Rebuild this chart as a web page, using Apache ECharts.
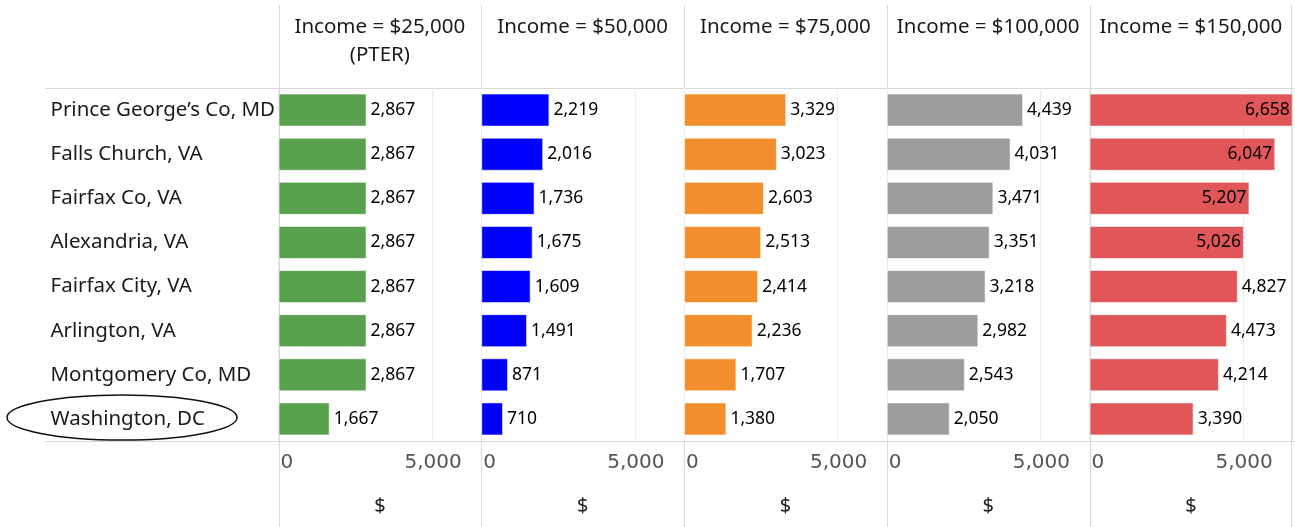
<!DOCTYPE html>
<html>
<head>
<meta charset="utf-8">
<script src="https://cdn.jsdelivr.net/npm/echarts@6/dist/echarts.min.js"></script>
<style>
  html, body { margin: 0; padding: 0; background: #fff; }
  #main { width: 1295px; height: 527px; }
</style>
</head>
<body>
<div id="main"></div>
<script>
// 数据
var cities = ['Prince George\u2019s Co, MD', 'Falls Church, VA', 'Fairfax Co, VA', 'Alexandria, VA',
              'Fairfax City, VA', 'Arlington, VA', 'Montgomery Co, MD', 'Washington, DC'];
var headers = ['Income = $25,000\n(PTER)', 'Income = $50,000', 'Income = $75,000', 'Income = $100,000', 'Income = $150,000'];
var inc25  = [2867, 2867, 2867, 2867, 2867, 2867, 2867, 1667];
var inc50  = [2219, 2016, 1736, 1675, 1609, 1491, 871, 710];
var inc75  = [3329, 3023, 2603, 2513, 2414, 2236, 1707, 1380];
var inc100 = [4439, 4031, 3471, 3351, 3218, 2982, 2543, 2050];
var inc150 = [6658, 6047, 5207, 5026, 4827, 4473, 4214, 3390];
var allData = [inc25, inc50, inc75, inc100, inc150];
var colors = ['#59A14F', '#0000FF', '#F28E2B', '#9D9D9D', '#E15759'];

var myChart = echarts.init(document.getElementById('main'));

var font = 'Noto Sans';
var panelLeft = 278.5, panelW = 202.75, plotTop = 88, plotBottom = 441;

var grids = [], xAxes = [], yAxes = [], series = [], titles = [], graphics = [];

for (var i = 0; i < 5; i++) {
    var pLeft = panelLeft + i * panelW;
    grids.push({ left: pLeft, top: plotTop, width: panelW, height: plotBottom - plotTop });
    xAxes.push({
        type: 'value', gridIndex: i, min: 0, max: 6600, interval: 5000,
        axisLine: { show: false }, axisTick: { show: false },
        splitLine: { show: true, lineStyle: { color: '#ececec', width: 1 } },
        axisLabel: {
            fontFamily: 'DejaVu Sans', fontSize: 20, color: '#555', margin: 12,
            alignMinLabel: 'left', showMaxLabel: false, padding: [0, 0, 0, 2],
            formatter: function (v) { return v === 0 ? '0' : v.toLocaleString('en-US'); }
        },
        name: '$', nameLocation: 'middle', nameGap: 55,
        nameTextStyle: { fontFamily: font, fontSize: 20, color: '#222' }
    });
    yAxes.push({
        type: 'category', gridIndex: i, data: cities, inverse: true,
        axisLine: { show: false }, axisTick: { show: false },
        axisLabel: i === 0 ? {
            show: true, align: 'left', margin: 228,
            fontFamily: font, fontSize: 20.5, color: '#1a1a1a'
        } : { show: false }
    });
    var data = allData[i].map(function (v) {
        var d = { value: v };
        if (i === 4 && v >= 5000) d.label = { position: 'insideRight', distance: 3 };
        return d;
    });
    series.push({
        type: 'bar', xAxisIndex: i, yAxisIndex: i, data: data,
        barCategoryGap: '25%', clip: true,
        itemStyle: { color: colors[i], borderColor: 'rgba(255,255,255,0.6)', borderWidth: 1 },
        label: {
            show: true, position: 'right', distance: 4,
            fontFamily: font, fontSize: 17.5, color: '#000',
            formatter: function (p) { return p.value.toLocaleString('en-US'); }
        },
        silent: true
    });
    titles.push({
        text: headers[i], left: pLeft + panelW / 2, top: 13, textAlign: 'center', padding: 0,
        textStyle: { fontFamily: font, fontSize: 20.5, fontWeight: 'normal', color: '#1a1a1a', lineHeight: 28 }
    });
    graphics.push({
        type: 'line', silent: true,
        shape: { x1: Math.round(pLeft) + 0.5, y1: 5, x2: Math.round(pLeft) + 0.5, y2: 527 },
        style: { stroke: '#d9d9d9', lineWidth: 1 }
    });
}
// 右边框
graphics.push({
    type: 'line', silent: true,
    shape: { x1: 1291.5, y1: 5, x2: 1291.5, y2: 527 },
    style: { stroke: '#d9d9d9', lineWidth: 1 }
});
graphics.push({
    type: 'line', silent: true,
    shape: { x1: 45, y1: plotTop + 0.5, x2: 1295, y2: plotTop + 0.5 },
    style: { stroke: '#d9d9d9', lineWidth: 1 }
});
graphics.push({
    type: 'line', silent: true,
    shape: { x1: 45, y1: plotBottom + 0.5, x2: 1295, y2: plotBottom + 0.5 },
    style: { stroke: '#d9d9d9', lineWidth: 1 }
});
// Washington, DC 圈
graphics.push({
    type: 'ellipse', silent: true,
    shape: { cx: 122, cy: 417.5, rx: 115, ry: 22.5 },
    style: { fill: 'none', stroke: '#111', lineWidth: 1.5 }
});

var option = {
    backgroundColor: '#fff',
    animation: false,
    title: titles,
    grid: grids,
    xAxis: xAxes,
    yAxis: yAxes,
    series: series,
    graphic: graphics
};
myChart.setOption(option);
</script>
</body>
</html>
